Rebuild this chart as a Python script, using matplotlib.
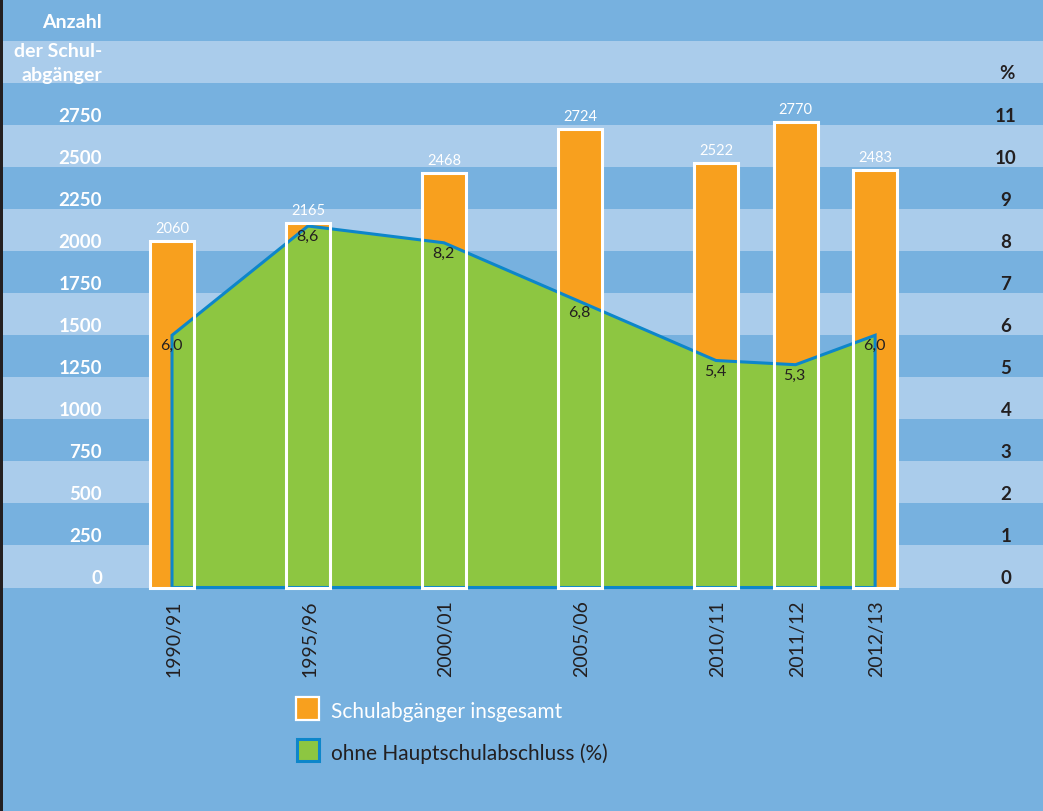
import matplotlib
matplotlib.use("Agg")
import matplotlib.pyplot as plt
from matplotlib.patches import Polygon, Rectangle

# data
years = ["1990/91", "1995/96", "2000/01", "2005/06", "2010/11", "2011/12", "2012/13"]
leavers = [2060, 2165, 2468, 2724, 2522, 2770, 2483]
no_cert_pct = [6.0, 8.6, 8.2, 6.8, 5.4, 5.3, 6.0]
pct_labels = ["6,0", "8,6", "8,2", "6,8", "5,4", "5,3", "6,0"]
left_ticks = [0, 250, 500, 750, 1000, 1250, 1500, 1750, 2000, 2250, 2500, 2750]
right_ticks = [0, 1, 2, 3, 4, 5, 6, 7, 8, 9, 10, 11]
header = ["Anzahl", "der Schul-", "abgänger"]
legend_labels = ["Schulabgänger insgesamt", "ohne Hauptschulabschluss (%)"]

# layout
x_pos = [0, 1, 2, 3, 4, 4.585, 5.17]
PCT_TO_COUNT = 250  # 1 % on the right axis = 250 on the left axis
W, H = 1043, 812

DARK_BG = "#77B1DF"
LIGHT_BG = "#AACCEB"
ORANGE = "#F8A01E"
GREEN = "#8DC641"
BLUE = "#0D86CA"
TEXT = "#231F20"

plt.rcParams["font.family"] = ["Lato", "DejaVu Sans"]

fig = plt.figure(figsize=(W / 100, H / 100), dpi=100)
fig.patch.set_facecolor(DARK_BG)
ax = fig.add_axes([0, 0, 1, 1])
ax.set_facecolor(DARK_BG)
ax.axis("off")

px_per_unit = 136
ax.set_xlim(-172 / px_per_unit, (W - 172) / px_per_unit)
zero_px = 588.5
px_per_250 = zero_px / 14
ax.set_ylim(-(H - zero_px) / px_per_250 * 250, 3500)


def fx(px):
    return px / W


def fy(py):
    return 1 - py / H


# horizontal stripes
for k in range(0, 13, 2):
    ax.axhspan(k * 250, (k + 1) * 250, color=LIGHT_BG, lw=0, zorder=0)

# bars (fill first, outline later on top of the area)
bar_w = 44 / px_per_unit
ax.bar(x_pos, leavers, width=bar_w, color=ORANGE, lw=0, zorder=2)
ax.bar(x_pos, leavers, width=bar_w, facecolor="none", edgecolor="white",
       lw=2.2, zorder=4)

# percentage area
verts = [(x_pos[0], 0)]
verts += [(x, p * PCT_TO_COUNT) for x, p in zip(x_pos, no_cert_pct)]
verts += [(x_pos[-1], 0)]
ax.add_patch(Polygon(verts, closed=True, facecolor=GREEN, edgecolor=BLUE,
                     lw=2.2, zorder=3))

# labels on bars and points
for x, v in zip(x_pos, leavers):
    ax.annotate(str(v), xy=(x, v), xytext=(0, 9), textcoords="offset pixels",
                ha="center", va="baseline", color="white", fontsize=10.5, zorder=5)
for x, p, lab in zip(x_pos, no_cert_pct, pct_labels):
    ax.annotate(lab, xy=(x, p * PCT_TO_COUNT), xytext=(-1, -14),
                textcoords="offset pixels", ha="center", va="baseline",
                color=TEXT, fontsize=11.5, zorder=5)

# x labels
for x, yr in zip(x_pos, years):
    ax.annotate(yr, xy=(x, 0), xytext=(2, -12), textcoords="offset pixels",
                rotation=90, ha="center", va="top", color=TEXT, fontsize=14)

# left axis labels
for t in left_ticks:
    ax.annotate(str(t), xy=(fx(102), t), xycoords=("figure fraction", "data"),
                xytext=(0, 4), textcoords="offset pixels", ha="right",
                va="baseline", color="white", fontsize=13.5, fontweight="bold")
for line, base in zip(header, [28, 57, 81]):
    fig.text(fx(102), fy(base), line, ha="right", va="baseline", color="white",
             fontsize=14, fontweight="bold")

# right axis labels
for t in right_ticks:
    ax.annotate(str(t), xy=(fx(1006), t * PCT_TO_COUNT),
                xycoords=("figure fraction", "data"), xytext=(0, 4),
                textcoords="offset pixels", ha="center", va="baseline",
                color=TEXT, fontsize=13.5, fontweight="bold")
fig.text(fx(1007), fy(79), "%", ha="center", va="baseline", color=TEXT,
         fontsize=13.5, fontweight="bold")

# legend
fig.add_artist(Rectangle((fx(296), fy(721)), 23 / W, 23 / H, facecolor=ORANGE,
                         edgecolor="white", lw=1.6, transform=fig.transFigure))
fig.add_artist(Rectangle((fx(296.5), fy(762)), 22 / W, 22 / H, facecolor=GREEN,
                         edgecolor=BLUE, lw=2.2, transform=fig.transFigure))
fig.text(fx(331), fy(718), legend_labels[0], ha="left", va="baseline",
         color="white", fontsize=15)
fig.text(fx(331), fy(760), legend_labels[1], ha="left", va="baseline",
         color=TEXT, fontsize=15)

# dark rule on the left edge
fig.add_artist(Rectangle((0, 0), 3 / W, 1, facecolor=TEXT, lw=0,
                         transform=fig.transFigure))

fig.savefig("out.png", dpi=100, facecolor=fig.get_facecolor())
